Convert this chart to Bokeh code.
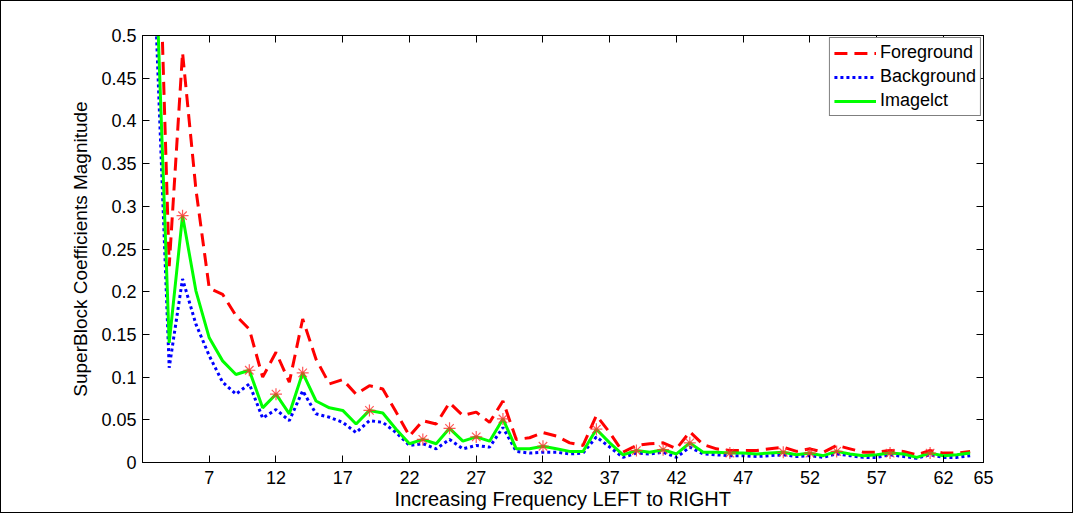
from bokeh.plotting import figure
from bokeh.models import Range1d, FixedTicker, LinearAxis, Legend, LegendItem
from bokeh.embed import file_html
from bokeh.resources import INLINE

# ---------------- data ----------------
freq = list(range(3, 65))
foreground = [0.75, 0.23, 0.48, 0.32, 0.204, 0.197, 0.172, 0.156, 0.100, 0.129,
              0.094, 0.168, 0.121, 0.092, 0.097, 0.080, 0.090, 0.086, 0.059, 0.031,
              0.049, 0.045, 0.070, 0.055, 0.059, 0.047, 0.072, 0.027, 0.029, 0.035,
              0.031, 0.023, 0.020, 0.055, 0.035, 0.012, 0.020, 0.022, 0.023, 0.016,
              0.036, 0.021, 0.016, 0.014, 0.014, 0.014, 0.016, 0.018, 0.013, 0.016,
              0.012, 0.020, 0.016, 0.012, 0.012, 0.014, 0.013, 0.009, 0.014, 0.011,
              0.011, 0.013]
background = [0.52, 0.111, 0.215, 0.162, 0.125, 0.094, 0.080, 0.092, 0.052, 0.062,
              0.049, 0.084, 0.057, 0.053, 0.047, 0.035, 0.049, 0.047, 0.035, 0.020,
              0.022, 0.016, 0.027, 0.016, 0.020, 0.018, 0.041, 0.013, 0.011, 0.012,
              0.012, 0.010, 0.011, 0.030, 0.018, 0.006, 0.011, 0.010, 0.012, 0.006,
              0.018, 0.010, 0.009, 0.008, 0.008, 0.007, 0.008, 0.009, 0.007, 0.008,
              0.006, 0.010, 0.008, 0.006, 0.006, 0.009, 0.007, 0.005, 0.009, 0.006,
              0.006, 0.008]
imagelct = [0.58, 0.140, 0.289, 0.201, 0.146, 0.119, 0.103, 0.108, 0.064, 0.080,
            0.057, 0.105, 0.072, 0.064, 0.061, 0.045, 0.061, 0.058, 0.039, 0.022,
            0.027, 0.022, 0.040, 0.025, 0.030, 0.025, 0.051, 0.016, 0.016, 0.019,
            0.016, 0.013, 0.013, 0.039, 0.023, 0.009, 0.014, 0.012, 0.015, 0.010,
            0.023, 0.012, 0.012, 0.011, 0.011, 0.010, 0.011, 0.012, 0.009, 0.011,
            0.008, 0.013, 0.010, 0.008, 0.009, 0.011, 0.010, 0.006, 0.011, 0.008,
            0.009, 0.011]
star_freq = [5, 10, 12, 14, 19, 23, 25, 27, 29, 32, 36, 39, 41, 43, 46, 50, 52, 54, 58, 61]
x_ticks = [7, 12, 17, 22, 27, 32, 37, 42, 47, 52, 57, 62, 65]
y_ticks = [0, 0.05, 0.1, 0.15, 0.2, 0.25, 0.3, 0.35, 0.4, 0.45, 0.5]
y_tick_labels = {0: "0", 0.05: "0.05", 0.1: "0.1", 0.15: "0.15", 0.2: "0.2", 0.25: "0.25",
                 0.3: "0.3", 0.35: "0.35", 0.4: "0.4", 0.45: "0.45", 0.5: "0.5"}

star_vals = [imagelct[freq.index(f)] for f in star_freq]

FONT = "Liberation Sans"

p = figure(frame_width=841, frame_height=427, output_backend="svg", toolbar_location=None,
           x_range=Range1d(2, 65), y_range=Range1d(0, 0.5),
           min_border_left=141, min_border_right=89, min_border_top=34, min_border_bottom=45)
p.styles = {"border": "1px solid #000000"}
p.grid.visible = False
p.outline_line_color = "black"
p.background_fill_color = "white"
p.border_fill_color = "white"

r_fg = p.line(freq, foreground, line_color="#ff0000", line_width=3, line_dash="13 7")
r_bg = p.line(freq, background, line_color="#0000ff", line_width=3, line_dash="3 3")
r_im = p.line(freq, imagelct, line_color="#00ff00", line_width=3)
p.scatter(star_freq, star_vals, marker="asterisk", size=12, line_color="#ff3030",
          line_width=1.2, line_alpha=0.8)

def style_axis(ax, labels=True):
    ax.axis_line_color = "black"
    ax.major_tick_line_color = "black"
    ax.major_tick_in = 7
    ax.major_tick_out = 0
    ax.minor_tick_line_color = None
    ax.major_label_text_font = FONT
    ax.major_label_text_font_size = "18px"
    ax.major_label_text_color = "black"
    ax.axis_label_text_font = FONT
    ax.axis_label_text_font_size = "19px"
    ax.axis_label_text_font_style = "normal"
    ax.axis_label_text_color = "black"
    if not labels:
        ax.major_label_text_font_size = "0px"
        ax.major_label_text_alpha = 0
        ax.major_label_standoff = 0

xa = p.xaxis[0]
xa.ticker = FixedTicker(ticks=x_ticks)
style_axis(xa)
xa.major_label_standoff = 8
xa.axis_label = "Increasing Frequency LEFT to RIGHT"
xa.axis_label_text_font_size = "20px"
xa.axis_label_standoff = 1

ya = p.yaxis[0]
ya.ticker = FixedTicker(ticks=y_ticks)
ya.major_label_overrides = y_tick_labels
style_axis(ya)
ya.major_label_standoff = 6
ya.axis_label = "SuperBlock Coefficients Magnitude"
ya.axis_label_standoff = 7

top = LinearAxis(ticker=FixedTicker(ticks=x_ticks))
style_axis(top, labels=False)
p.add_layout(top, "above")
right = LinearAxis(ticker=FixedTicker(ticks=y_ticks))
style_axis(right, labels=False)
p.add_layout(right, "right")

legend = Legend(items=[LegendItem(label="Foreground", renderers=[r_fg]),
                       LegendItem(label="Background", renderers=[r_bg]),
                       LegendItem(label="Imagelct", renderers=[r_im])],
                location="top_right")
legend.margin = 2
legend.padding = 4
legend.spacing = 3
legend.glyph_width = 42
legend.glyph_height = 20
legend.label_height = 20
legend.label_standoff = 4
legend.label_text_font = FONT
legend.label_text_font_size = "18px"
legend.label_text_color = "black"
legend.border_line_color = "black"
legend.border_line_width = 1
legend.background_fill_color = "white"
legend.background_fill_alpha = 1
p.add_layout(legend)

open("out.html", "w").write(file_html(p, INLINE))
